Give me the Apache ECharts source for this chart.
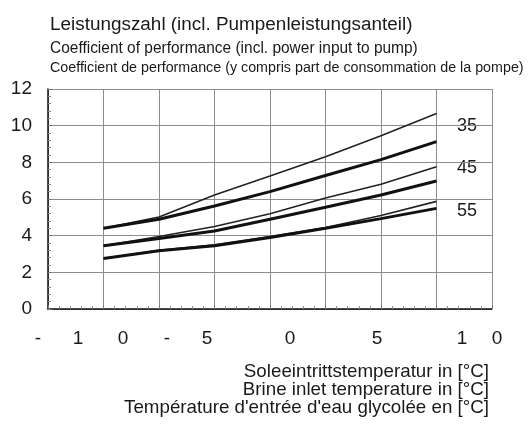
<!DOCTYPE html>
<html>
<head>
<meta charset="utf-8">
<script src="https://cdn.jsdelivr.net/npm/echarts@6/dist/echarts.min.js"></script>
<style>
html,body{margin:0;padding:0;background:#fff;}
#copChart{width:531px;height:426px;}
</style>
</head>
<body>
<div id="copChart"></div>
<script>
// Soleeintrittstemperatur
var brineTemps = [-5, 0, 5, 10, 15, 20, 25];
// Vorlauf 35
var cop35Thin = [4.40, 5.02, 6.22, 7.25, 8.30, 9.45, 10.67];
var cop35Thick = [4.40, 4.90, 5.62, 6.40, 7.28, 8.15, 9.13];
// Vorlauf 45
var cop45Thin = [3.45, 3.95, 4.50, 5.20, 6.05, 6.80, 7.76];
var cop45Thick = [3.45, 3.85, 4.25, 4.90, 5.55, 6.22, 6.98];
// Vorlauf 55
var cop55Thin = [2.75, 3.20, 3.50, 3.95, 4.45, 5.10, 5.87];
var cop55Thick = [2.75, 3.18, 3.45, 3.90, 4.40, 4.93, 5.49];

var curveNames = ['35', '45', '55'];
var xTickChars = ['-', '1', '0', '-', '5', '0', '5', '1', '0'];
var xTickPos = [38, 78, 123, 167, 207, 290, 377, 462, 497];

var titleLines = [
	'Leistungszahl (incl. Pumpenleistungsanteil)',
	'Coefficient of performance (incl. power input to pump)',
	'Coefficient de performance (y compris part de consommation de la pompe)'
];
var xNameLines = [
	'Soleeintrittstemperatur in [°C]',
	'Brine inlet temperature in [°C]',
	'Température d\'entrée d\'eau glycolée en [°C]'
];

function pairs(vals){
	var out = [];
	for (var i = 0; i < brineTemps.length; i++) {
		out.push([brineTemps[i], vals[i]]);
	}
	return out;
}

function curve(name, vals, thick){
	return {
		name: name,
		type: 'line',
		data: pairs(vals),
		symbol: 'none',
		smooth: false,
		silent: true,
		lineStyle: { color: thick ? '#111' : '#222', width: thick ? 3 : 1.6 },
		z: thick ? 3 : 2
	};
}

function txt(s, x, y, size, align, sx){
	return {
		type: 'text', x: x, y: y, scaleX: sx || 1, silent: true,
		style: { text: s, font: size + 'px ' + FONT, fill: '#1a1a1a', align: align, verticalAlign: 'middle' }
	};
}

var FONT = '"Liberation Sans", Arial, sans-serif';
var chart = echarts.init(document.getElementById('copChart'));

var graphics = [];
graphics.push(txt(titleLines[0], 50, 25, 18, 'left', 1.05));
graphics.push(txt(titleLines[1], 50, 48, 17, 'left', 0.91));
graphics.push(txt(titleLines[2], 50, 68, 14, 'left', 1.02));
for (var i = 0; i < xNameLines.length; i++) {
	graphics.push(txt(xNameLines[i], 489, 372 + i * 18, 19, 'right', 0.987));
}
for (var j = 0; j < xTickChars.length; j++) {
	graphics.push(txt(xTickChars[j], xTickPos[j], 339, 19, 'center', 1));
}
var curveLabelY = [126, 168, 211];
for (var k = 0; k < curveNames.length; k++) {
	graphics.push(txt(curveNames[k], 467, curveLabelY[k], 18, 'center', 1));
}

var option = {
	animation: false,
	backgroundColor: '#fff',
	grid: { left: 48, right: 39, top: 89, bottom: 117 },
	xAxis: {
		type: 'value',
		min: -10,
		max: 30,
		interval: 5,
		axisLine: { show: true, onZero: false, lineStyle: { color: '#111', width: 1.5 } },
		axisTick: { show: true, inside: true, length: 4, lineStyle: { color: '#777' } },
		minorTick: { show: true, splitNumber: 5, length: 3, lineStyle: { color: '#888' } },
		axisLabel: { show: false },
		splitLine: { show: true, lineStyle: { color: '#8c8c8c', width: 1 } }
	},
	yAxis: {
		type: 'value',
		min: 0,
		max: 12,
		interval: 2,
		axisLine: { show: true, onZero: false, lineStyle: { color: '#111', width: 1.5 } },
		axisTick: { show: true, inside: true, length: 4, lineStyle: { color: '#777' } },
		minorTick: { show: true, splitNumber: 5, length: 3, lineStyle: { color: '#888' } },
		axisLabel: { fontSize: 19, color: '#1a1a1a', margin: 16, fontFamily: FONT },
		splitLine: { show: true, lineStyle: { color: '#8c8c8c', width: 1 } }
	},
	series: [
		curve('35', cop35Thin, false),
		curve('35', cop35Thick, true),
		curve('45', cop45Thin, false),
		curve('45', cop45Thick, true),
		curve('55', cop55Thin, false),
		curve('55', cop55Thick, true)
	],
	graphic: graphics
};
chart.setOption(option);
</script>
</body>
</html>
